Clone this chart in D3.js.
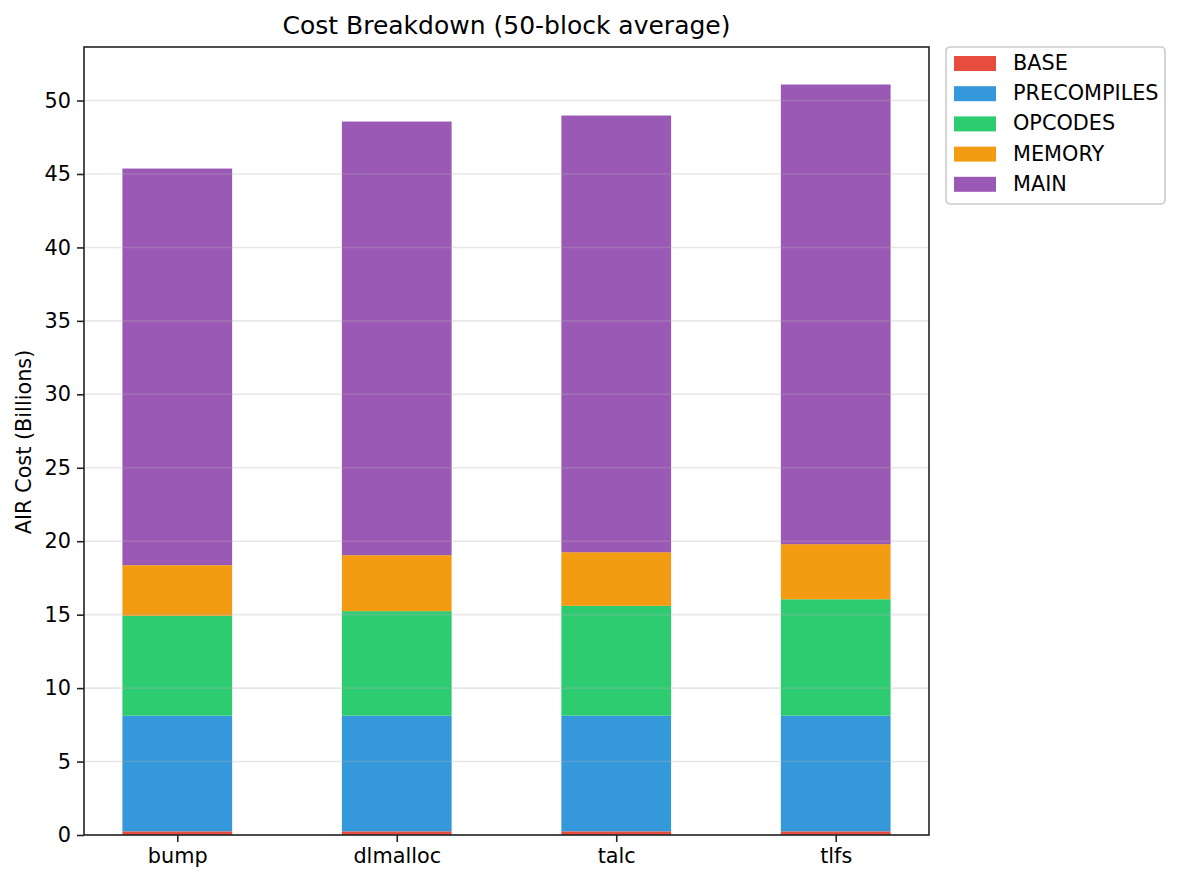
<!DOCTYPE html>
<html>
<head>
<meta charset="utf-8">
<script src="https://cdn.jsdelivr.net/npm/d3@7"></script>
<style>
  body { margin: 0; background: #fff; }
  svg { font-family: "DejaVu Sans", sans-serif; }
</style>
</head>
<body>
<svg width="1180" height="885"></svg>
<script>
const allocators = ["bump", "dlmalloc", "talc", "tlfs"];
const seriesNames = ["BASE", "PRECOMPILES", "OPCODES", "MEMORY", "MAIN"];
const seriesColors = ["#e74c3c", "#3498db", "#2ecc71", "#f39c12", "#9b59b6"];
const baseCost = [0.25, 0.25, 0.25, 0.25];
const precompilesCost = [7.87, 7.87, 7.87, 7.87];
const opcodesCost = [6.8, 7.12, 7.48, 7.93];
const memoryCost = [3.45, 3.81, 3.65, 3.75];
const mainCost = [27.0, 29.52, 29.73, 31.29];
const yTicks = [0, 5, 10, 15, 20, 25, 30, 35, 40, 45, 50];

const seriesValues = [baseCost, precompilesCost, opcodesCost, memoryCost, mainCost];
const rows = allocators.map((a, i) => {
  let obj = { labelX: a };
  seriesNames.forEach((s, j) => obj[s] = seriesValues[j][i]);
  return obj;
});

const svg = d3.select("svg");
const area = { left: 84, right: 929, top: 47, bottom: 835 };
const fs = "20.8px";

const stacked = d3.stack().keys(seriesNames)(rows);
const maxTotal = d3.max(rows, d => d3.sum(seriesNames, s => d[s]));

// x in bar-index units, like matplotlib with 5% margins
const scaleX = d3.scaleLinear()
  .domain([-0.25 - 0.175, 3.25 + 0.175])
  .range([area.left, area.right]);
const scaleY = d3.scaleLinear()
  .domain([0, maxTotal * 1.05])
  .range([area.bottom, area.top]);
const barW = scaleX(0.5) - scaleX(0);

// bars
stacked.forEach((layer, j) => {
  svg.append("g")
    .selectAll("rect")
    .data(layer)
    .enter()
    .append("rect")
    .attr("x", (d, i) => scaleX(i) - barW / 2)
    .attr("y", d => scaleY(d[1]))
    .attr("width", barW)
    .attr("height", d => scaleY(d[0]) - scaleY(d[1]))
    .style("fill", seriesColors[j]);
});

// grid on top of bars
svg.append("g")
  .selectAll("line")
  .data(yTicks)
  .enter()
  .append("line")
  .attr("x1", area.left)
  .attr("x2", area.right)
  .attr("y1", d => scaleY(d))
  .attr("y2", d => scaleY(d))
  .style("stroke", "#b0b0b0")
  .style("stroke-opacity", 0.3)
  .style("stroke-width", 1.6);

// axes
const axisY = d3.axisLeft(scaleY).tickValues(yTicks).tickSize(7).tickPadding(6);
const gy = svg.append("g")
  .attr("transform", `translate(${area.left}, 0)`)
  .call(axisY);
const axisX = d3.axisBottom(scaleX).tickValues([0, 1, 2, 3])
  .tickFormat(i => allocators[i]).tickSize(7).tickPadding(6);
const gx = svg.append("g")
  .attr("transform", `translate(0, ${area.bottom})`)
  .call(axisX);
[gx, gy].forEach(g => {
  g.select(".domain").remove();
  g.selectAll("line").style("stroke", "#222").style("stroke-width", 1.6);
  g.selectAll("text").style("font-size", fs).style("fill", "#000")
    .style("font-family", "DejaVu Sans");
});

// frame
svg.append("rect")
  .attr("x", area.left)
  .attr("y", area.top)
  .attr("width", area.right - area.left)
  .attr("height", area.bottom - area.top)
  .style("fill", "none")
  .style("stroke", "#222")
  .style("stroke-width", 1.6);

// title and label
svg.append("text")
  .attr("x", (area.left + area.right) / 2)
  .attr("y", 34)
  .attr("text-anchor", "middle")
  .style("font-size", "25px")
  .text("Cost Breakdown (50-block average)");

svg.append("text")
  .attr("transform", `translate(31, ${(area.top + area.bottom) / 2 + 1}) rotate(-90)`)
  .attr("text-anchor", "middle")
  .style("font-size", fs)
  .text("AIR Cost (Billions)");

// legend
const legend = svg.append("g").attr("transform", "translate(946, 47)");
legend.append("rect")
  .attr("width", 219)
  .attr("height", 157)
  .attr("rx", 4)
  .style("fill", "#fff")
  .style("fill-opacity", 0.8)
  .style("stroke", "#cccccc")
  .style("stroke-width", 1.6);
seriesNames.forEach((s, j) => {
  const y = 16 + j * 30.2;
  legend.append("rect")
    .attr("x", 8)
    .attr("y", y - 7)
    .attr("width", 42)
    .attr("height", 15)
    .style("fill", seriesColors[j]);
  legend.append("text")
    .attr("x", 67)
    .attr("y", y + 7)
    .style("font-size", fs)
    .text(s);
});
</script>
</body>
</html>
